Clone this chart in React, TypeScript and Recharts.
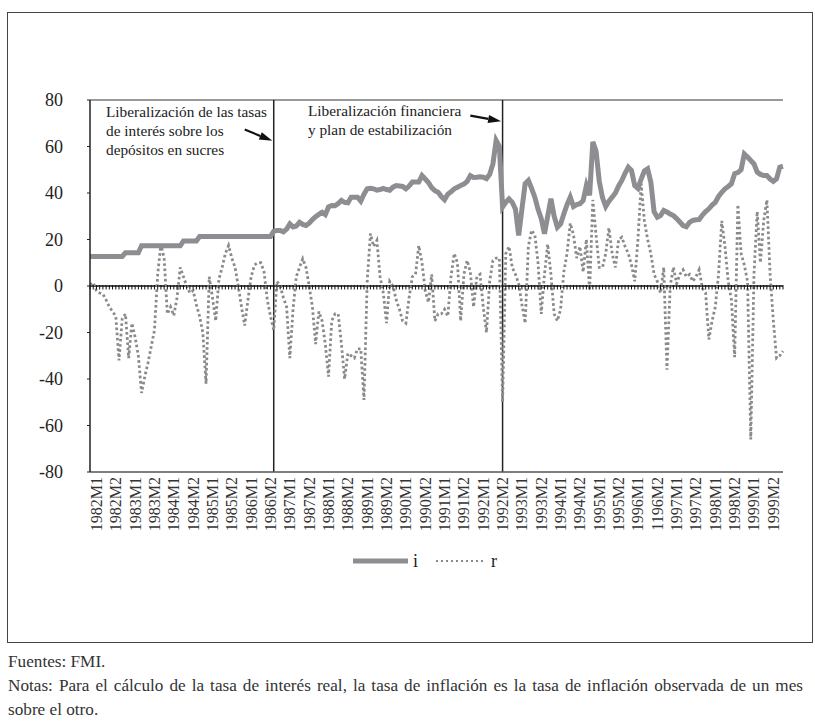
import React from "react";
import { LineChart, Line, XAxis, YAxis, ReferenceLine } from "recharts";

// monthly observations, Jan 1982 .. Dec 1999
const months: string[] = [];
for (let y = 1982; y <= 1999; y++) {
  for (let m = 1; m <= 12; m++) months.push(`${y}-${String(m).padStart(2, "0")}`);
}

// tasa de interés nominal (i), one row per year
const depositRate = [
  12.7, 12.7, 12.7, 12.7, 12.7, 12.7, 12.7, 12.7, 12.7, 12.7, 12.7, 14.3,
  14.3, 14.3, 14.3, 14.3, 17.3, 17.3, 17.3, 17.3, 17.3, 17.3, 17.3, 17.3,
  17.3, 17.3, 17.3, 17.3, 17.3, 19.4, 19.4, 19.4, 19.4, 19.4, 21.3, 21.3,
  21.3, 21.3, 21.3, 21.3, 21.3, 21.3, 21.3, 21.3, 21.3, 21.3, 21.3, 21.3,
  21.3, 21.3, 21.3, 21.3, 21.3, 21.3, 21.3, 21.3, 21.3, 23.6, 23.9, 23.9,
  23.3, 24.5, 26.7, 25.4, 25.8, 27.4, 26.5, 26, 27, 28.6, 29.8, 30.8,
  31.7, 30.7, 34, 34.6, 34.5, 35.5, 36.8, 36, 35.8, 38.2, 38.2, 38.2,
  36.5, 39.5, 41.8, 42, 41.8, 41.2, 41.5, 42, 41.5, 41.2, 42.5, 43.2,
  43, 42.8, 41.8, 43, 44.7, 44.7, 44.7, 47.5, 46, 44.5, 42.3, 41,
  40.3, 38.5, 37.1, 39.5, 40.5, 41.8, 42.5, 43.2, 43.8, 45, 47.5, 46.7,
  46.8, 47, 46.8, 46.2, 48, 52.5, 62.6, 60, 34, 36, 37.5, 36,
  33, 21.7, 33, 44, 45.4, 42, 38.2, 33, 29, 22.5, 30, 37.5,
  30, 25.3, 26.7, 31, 35, 38.2, 34.2, 35, 35.4, 36.8, 43.2, 39,
  62, 58, 45, 38, 34.2, 36.5, 38.2, 40, 43, 45.4, 48.5, 51.1,
  49.7, 43.2, 42, 46, 49.5, 50.4, 44.7, 32, 29.6, 30.3, 32.5, 31.8,
  31, 30.3, 29, 27.5, 26, 25.5, 27.4, 28.2, 28.5, 28.6, 30.5, 32,
  33.2, 34.8, 36, 38.5, 40.3, 41.8, 42.8, 44, 48.3, 48.8, 50, 56.8,
  55.5, 54, 52.5, 49, 48, 47.5, 47.5, 46, 45, 46.1, 51.1, 51.5,
];

// tasa de interés real (r)
const realRate = [
  0.5, 1.5, -2, -3, -3.4, -6, -9, -11, -13, -32, -14, -12,
  -31, -16, -22, -30, -46, -39, -33, -26, -19, 5, 18, 12,
  -12, -9, -12.7, -5, 8, 4, 0, -3, -2, -8, -13, -20,
  -42, 4, -5, -15, 3, 8, 14, 17.4, 12, 8, 0, -9,
  -17, -6, 4, 9, 10, 10, 6, -6, -13, -19, 2, 0,
  -5, -9, -31, -10, 4, 8, 11.7, 8, 0, -9, -25, -11,
  -15, -25, -39, -15, -12, -12, -25, -40, -29, -30, -31, -27,
  -27, -49, 2, 22.5, 17, 19.6, 4, -3, -16, 2, 0, -6,
  -10, -15, -16, -5, 4, 5, 17.4, 10, -2, -7, 5, -15,
  -12, -12, -10, -13, 4, 14, 10, -15, 5, 11, 6, -9,
  4, 5, -9, -20, 2, 11, 12, 12, -50, 14, 17, 8,
  5, 1, -8, -16, 17, 24, 22, 10, -12, 5, 18, 5,
  -12, -15, -10, 6, 14, 27, 22, 12, 17, 6, 20, -2,
  37, 22, 8, 8, 14, 25, 14, 8, 20, 21, 17, 14,
  9, 2, 20, 44, 28, 20, 14, 5, 2, -3, 8, -36,
  0, 8, 1, 5, 7, 4, 5, 2, 4, 7, -1, -3,
  -23, -15, -9, 5, 28, 17, 2, -6, -30.6, 35, 14, 9,
  2, -66, 5, 32, 10, 28, 37, 5, -15, -31, -30, -28,
];

const semesterLabels = [
  "1982M1", "1982M2", "1983M1", "1983M2", "1984M1", "1984M2",
  "1985M1", "1985M2", "1986M1", "1986M2", "1987M1", "1987M2",
  "1988M1", "1988M2", "1989M1", "1989M2", "1990M1", "1990M2",
  "1991M1", "1991M2", "1992M1", "1992M2", "1993M1", "1993M2",
  "1994M1", "1994M2", "1995M1", "1995M2", "1996M1", "1196M2",
  "1997M1", "1997M2", "1998M1", "1998M2", "1999M1", "1999M2",
];

const yTicks = [-80, -60, -40, -20, 0, 20, 40, 60, 80];

const data = months.map((month, k) => ({
  month,
  i: depositRate[k],
  r: realRate[k],
  zero: 0,
}));

const FONT = "'Liberation Serif', 'DejaVu Serif', serif";
const GREY_I = "#8e8e92";
const GREY_R = "#8a8a8c";

const SemesterTick = (props: any) => {
  const { x, y, payload } = props;
  const k = months.indexOf(payload.value);
  if (k % 6 !== 2) return <g />;
  return (
    <text
      transform={`translate(${x},${y}) rotate(-90)`}
      textAnchor="end"
      dominantBaseline="central"
      fontSize={16}
      fontFamily={FONT}
      fill="#333"
    >
      {semesterLabels[(k - 2) / 6]}
    </text>
  );
};

const hatch = (props: any) => (
  <line
    key={`h${props.index}`}
    x1={props.cx}
    x2={props.cx}
    y1={props.cy - 1}
    y2={props.cy + 3.5}
    stroke="#111"
    strokeWidth={1}
  />
);

const arrow = (props: any) => {
  const { x1, y1, x2, y2 } = props;
  const dx = x2 - x1;
  const dy = y2 - y1;
  const len = Math.hypot(dx, dy);
  const ux = dx / len;
  const uy = dy / len;
  const tipX = x2 - ux * 1.5;
  const tipY = y2 - uy * 1.5;
  const bx = tipX - ux * 13;
  const by = tipY - uy * 13;
  return (
    <g>
      <line x1={x1} y1={y1} x2={bx} y2={by} stroke="#111" strokeWidth={2.2} />
      <polygon
        points={`${tipX},${tipY} ${bx - uy * 4},${by + ux * 4} ${bx + uy * 4},${by - ux * 4}`}
        fill="#111"
      />
    </g>
  );
};

export default function App() {
  return (
    <div
      style={{
        position: "absolute",
        left: 0,
        top: 0,
        width: 815,
        height: 725,
        background: "#fff",
        fontFamily: FONT,
        color: "#333",
      }}
    >
      <div
        style={{
          position: "absolute",
          left: 7,
          top: 12,
          width: 806,
          height: 631,
          border: "1.5px solid #444",
          boxSizing: "border-box",
        }}
      />
      <div style={{ position: "absolute", left: 0, top: 0 }}>
        <LineChart
          width={815}
          height={552}
          data={data}
          margin={{ top: 100, right: 32, left: 30, bottom: 10 }}
        >
          <XAxis
            dataKey="month"
            interval={0}
            tick={<SemesterTick />}
            tickLine={false}
            tickSize={0}
            tickMargin={5}
            height={70}
            axisLine={{ stroke: "#555", strokeWidth: 1.5 }}
          />
          <YAxis
            domain={[-80, 80]}
            ticks={yTicks}
            width={60}
            tickSize={3}
            tickMargin={24}
            axisLine={{ stroke: "#222", strokeWidth: 1.5 }}
            tickLine={{ stroke: "#222" }}
            tick={{ fontSize: 18, fontFamily: FONT, fill: "#222" }}
          />
          <ReferenceLine y={80} stroke="#777" strokeWidth={1.5} />
          <ReferenceLine y={0} stroke="#111" strokeWidth={1.5} />
          <ReferenceLine x="1986-10" stroke="#222" strokeWidth={1.5} />
          <ReferenceLine x="1992-09" stroke="#222" strokeWidth={1.5} />
          <ReferenceLine
            segment={[
              { x: "1986-01", y: 67.3 },
              { x: "1986-10", y: 62.2 },
            ]}
            shape={arrow}
          />
          <ReferenceLine
            segment={[
              { x: "1991-11", y: 73.3 },
              { x: "1992-09", y: 70.7 },
            ]}
            shape={arrow}
          />
          <Line
            dataKey="zero"
            stroke="none"
            dot={hatch}
            activeDot={false}
            legendType="none"
            isAnimationActive={false}
          />
          <Line
            dataKey="r"
            stroke={GREY_R}
            strokeWidth={2.8}
            strokeDasharray="2.6 2.6"
            dot={false}
            isAnimationActive={false}
          />
          <Line
            dataKey="i"
            stroke={GREY_I}
            strokeWidth={5}
            dot={false}
            isAnimationActive={false}
          />
        </LineChart>
      </div>

      <svg
        width={815}
        height={725}
        style={{ position: "absolute", left: 0, top: 0, pointerEvents: "none" }}
        fontFamily={FONT}
        fontSize={15.3}
        fill="#222"
      >
        <text x={106} y={116.5}>Liberalización de las tasas</text>
        <text x={106} y={135.5}>de interés sobre los</text>
        <text x={106} y={154.5}>depósitos en sucres</text>
        <text x={308} y={116}>Liberalización financiera</text>
        <text x={308} y={135}>y plan de estabilización</text>

        <line x1={353} x2={408} y1={561} y2={561} stroke={GREY_I} strokeWidth={5} />
        <text x={413} y={567} fontSize={18}>i</text>
        <line
          x1={436}
          x2={486}
          y1={561}
          y2={561}
          stroke={GREY_R}
          strokeWidth={2}
          strokeDasharray="2 3"
        />
        <text x={491} y={567} fontSize={18}>r</text>
      </svg>

      <div
        style={{
          position: "absolute",
          left: 8,
          top: 650,
          width: 795,
          fontSize: 17.2,
          lineHeight: "24px",
        }}
      >
        <div>Fuentes: FMI.</div>
        <div style={{ textAlign: "justify", textAlignLast: "justify" }}>
          Notas: Para el cálculo de la tasa de interés real, la tasa de inflación es la tasa de
          inflación observada de un mes
        </div>
        <div>sobre el otro.</div>
      </div>
    </div>
  );
}
